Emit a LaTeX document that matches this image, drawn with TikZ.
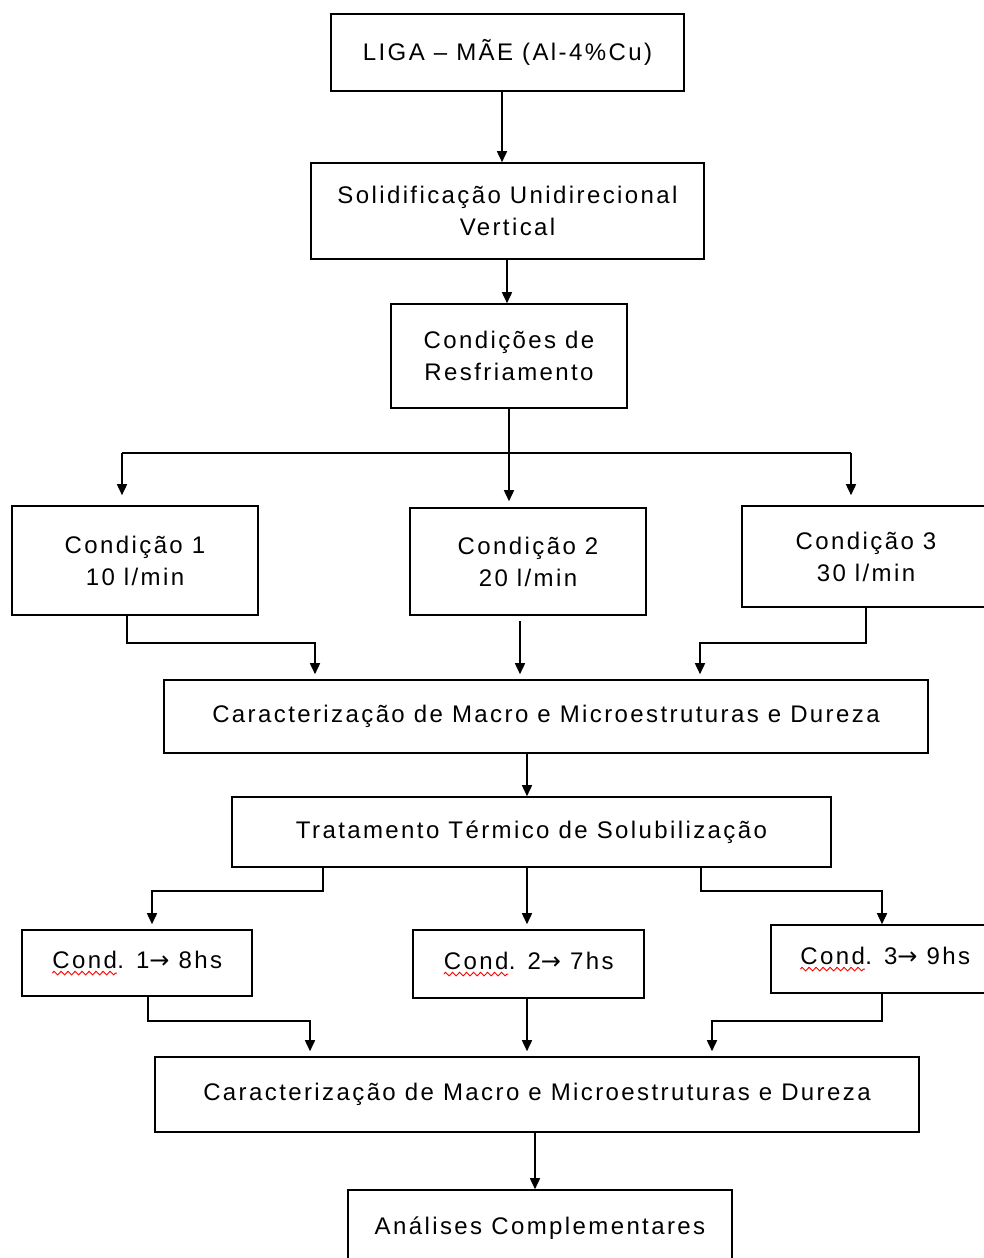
\documentclass[tikz,border=0pt]{standalone}
\usepackage{fontspec}
\newfontfamily\boxfont[LetterSpace=10]{Liberation Sans}
\newfontfamily\arrowfont{DejaVu Sans}
\usetikzlibrary{arrows.meta,decorations.pathmorphing}

\tikzset{
  stepbox/.style={draw, line width=1.6pt, align=center, inner sep=0pt,
    font=\boxfont\fontsize{24}{32}\selectfont},
  arr/.style={line width=1.6pt, -{Triangle[length=11pt,width=10pt]}},
  wire/.style={line width=1.6pt}
}
\newcommand\squig[1]{\tikz[baseline=(sq.base)]{\node[draw=none, inner sep=0pt, outer sep=0pt,
    minimum width=0pt, minimum height=0pt] (sq) {#1};
  \draw[red, line width=0.9pt, decorate, decoration={zigzag, amplitude=1.8pt, segment length=7pt}]
    ([yshift=-5pt]sq.base west) -- ([yshift=-5pt]sq.base east);}}
\newcommand\seta{{\arrowfont →}}

\begin{document}
\begin{tikzpicture}[x=1pt,y=-1pt]
       \fill[white] (0,0) rectangle (983,1258);
       \useasboundingbox (0,0) rectangle (983,1258);
       \node[stepbox, minimum width=353pt, minimum height=77pt] (ligamae) at (507.5,52.5) {LIGA – MÃE (Al-4\%Cu)};
       \node[stepbox, minimum width=393pt, minimum height=96pt] (solid) at (507.5,211) {Solidificação Unidirecional\\Vertical};
       \node[stepbox, minimum width=236pt, minimum height=104pt] (resfr) at (509,356) {Condições de\\Resfriamento};
       \node[stepbox, minimum width=246pt, minimum height=109pt] (cond1) at (135,560.5) {Condição 1\\10 l/min};
       \node[stepbox, minimum width=236pt, minimum height=107pt] (cond2) at (528,561.5) {Condição 2\\20 l/min};
       \node[stepbox, minimum width=248pt, minimum height=101pt] (cond3) at (866,556.5) {Condição 3\\30 l/min};
       \node[stepbox, minimum width=764pt, minimum height=73pt] (caract1) at (546,716.5) {Caracterização de Macro e Microestruturas e Dureza};
       \node[stepbox, minimum width=599pt, minimum height=70pt] (trat) at (531.5,832) {Tratamento Térmico de Solubilização};
       \node[stepbox, minimum width=230pt, minimum height=66pt] (temp1) at (137,963) {\squig{Cond}. 1\seta\ 8hs};
       \node[stepbox, minimum width=231pt, minimum height=68pt] (temp2) at (528.5,964) {\squig{Cond}. 2\seta\ 7hs};
       \node[stepbox, minimum width=228pt, minimum height=68pt] (temp3) at (885,959) {\squig{Cond}. 3\seta\ 9hs};
       \node[stepbox, minimum width=764pt, minimum height=75pt] (caract2) at (537,1094.5) {Caracterização de Macro e Microestruturas e Dureza};
       \node[stepbox, minimum width=384pt, minimum height=76pt] (analises) at (540,1228) {Análises Complementares};
       \coordinate (ramo1) at (122,453);
       \coordinate (ramo3) at (851,453);
       \draw[arr] ([xshift=-5.5pt]ligamae.south) -- ([xshift=-5.5pt]ligamae.south |- solid.north);
       \draw[arr] ([xshift=-0.5pt]solid.south) -- ([xshift=-0.5pt]solid.south |- resfr.north);
       \draw[arr, shorten >=6pt] (resfr) -- (resfr.south |- cond2.north);
       \draw[wire] (ramo1) -- (ramo3);
       \draw[arr, shorten >=10pt] (ramo1) -- (ramo1 |- cond1.north);
       \draw[arr, shorten >=10pt] (ramo3) -- (ramo3 |- cond3.north);
       \draw[arr, shorten >=5pt] ([xshift=-8pt]cond1.south) -- ++(0,27) -| ([xshift=-231pt]caract1.north);
       \draw[arr, shorten <=5pt, shorten >=5pt] ([xshift=-8pt]cond2.south) -- ([xshift=-8pt]cond2.south |- caract1.north);
       \draw[arr, shorten >=5pt] (cond3.south) -- ++(0,35) -| ([xshift=154pt]caract1.north);
       \draw[arr] ([xshift=-19pt]caract1.south) -- ([xshift=-19pt]caract1.south |- trat.north);
       \draw[arr, shorten >=5pt] ([xshift=-208.5pt]trat.south) -- ++(0,23) -| ([xshift=15pt]temp1.north);
       \draw[arr, shorten >=5pt] ([xshift=-4.5pt]trat.south) -- ([xshift=-4.5pt]trat.south |- temp2.north);
       \draw[arr] ([xshift=169.5pt]trat.south) -- ++(0,23) -| ([xshift=-3pt]temp3.north);
       \draw[arr, shorten >=5pt] ([xshift=11pt]temp1.south) -- ++(0,24) -| ([xshift=-227pt]caract2.north);
       \draw[arr, shorten >=5pt] ([xshift=-1.5pt]temp2.south) -- ([xshift=-1.5pt]temp2.south |- caract2.north);
       \draw[arr, shorten >=5pt] ([xshift=-3pt]temp3.south) -- ++(0,27) -| ([xshift=175pt]caract2.north);
       \draw[arr] ([xshift=-2pt]caract2.south) -- ([xshift=-2pt]caract2.south |- analises.north);
\end{tikzpicture}
\end{document}
